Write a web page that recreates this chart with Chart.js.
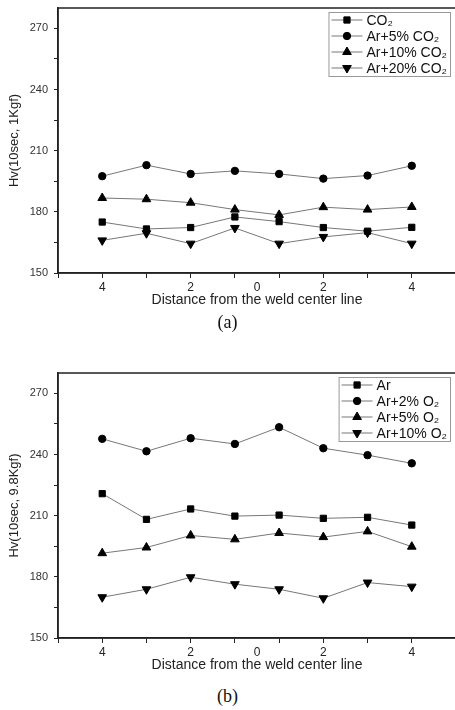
<!DOCTYPE html>
<html>
<head>
<meta charset="utf-8">
<script src="https://cdn.jsdelivr.net/npm/chart.js@4.4.0/dist/chart.umd.min.js"></script>
<style>
  body { margin: 0; width: 455px; height: 710px; overflow: hidden; background: #fff; position: relative; }
  .box { position: absolute; left: 0; width: 462px; height: 313px; }
  .cap { position: absolute; left: 0; width: 455px; text-align: center; font: 18px "Liberation Serif", "Times New Roman", serif; color: #111; }
</style>
</head>
<body>
<div class="box" style="top:0"><canvas id="c1"></canvas></div>
<div class="cap" style="top:312px">(a)</div>
<div class="box" style="top:365px"><canvas id="c2"></canvas></div>
<div class="cap" style="top:686px">(b)</div>
<script>
// measuring positions along the weld (1..8), axis ticks and their labels
const positions = [1, 2, 3, 4, 5, 6, 7, 8];
const xTickValues = [0, 1, 2, 3, 4, 4.5, 5, 6, 7, 8, 9];
const xTickText = ['', '4', '', '2', '', '0', '', '2', '', '4', ''];
const yTickValues = [150, 165, 180, 195, 210, 225, 240, 255, 270];

// (a) CO2 mixtures, Hv 1Kgf
const labelsA = ['CO₂', 'Ar+5% CO₂', 'Ar+10% CO₂', 'Ar+20% CO₂'];
const co2 = [175.0, 171.6, 172.3, 177.5, 175.2, 172.3, 170.5, 172.4];
const ar5co2 = [197.5, 202.9, 198.6, 200.1, 198.6, 196.3, 197.8, 202.6];
const ar10co2 = [186.8, 186.2, 184.5, 181.1, 178.5, 182.3, 181.1, 182.4];
const ar20co2 = [166.0, 169.5, 164.4, 172.1, 164.4, 167.7, 169.8, 164.4];

// (b) O2 mixtures, Hv 9.8Kgf
const labelsB = ['Ar', 'Ar+2% O₂', 'Ar+5% O₂', 'Ar+10% O₂'];
const ar = [220.8, 208.2, 213.3, 209.8, 210.3, 208.7, 209.2, 205.4];
const ar2o2 = [247.7, 241.6, 248.0, 245.2, 253.4, 243.1, 239.7, 235.7];
const ar5o2 = [191.6, 194.4, 200.3, 198.4, 201.5, 199.5, 202.3, 194.8];
const ar10o2 = [170.0, 173.9, 179.8, 176.4, 173.9, 169.5, 177.2, 175.2];

const font = '"Liberation Sans", Arial, sans-serif';
const markers = [
  { style: 'rect', rot: 0, r: 4.4 },
  { style: 'circle', rot: 0, r: 3.7 },
  { style: 'triangle', rot: 0, r: 5 },
  { style: 'triangle', rot: 180, r: 5 }
];

const frame = {
  id: 'frame',
  afterDraw(chart) {
    const a = chart.chartArea, ctx = chart.ctx;
    ctx.save();
    ctx.strokeStyle = '#222';
    ctx.lineWidth = 1.5;
    ctx.strokeRect(a.left, a.top, a.right - a.left, a.bottom - a.top);
    ctx.restore();
  }
};

const boxLegend = {
  id: 'boxLegend',
  afterDraw(chart) {
    const ctx = chart.ctx, a = chart.chartArea, sets = chart.data.datasets;
    ctx.save();
    ctx.font = '14px ' + font;
    const w = Math.max(...sets.map(d => ctx.measureText(d.label).width));
    const right = a.right - 6, textX = right - 3 - w, left = textX - 38;
    const top = a.top + 4, rowH = 16, h = sets.length * rowH;
    ctx.fillStyle = '#fff';
    ctx.fillRect(left, top, right - left, h);
    ctx.strokeStyle = '#999';
    ctx.lineWidth = 1;
    ctx.strokeRect(left + 0.5, top + 0.5, right - left, h);
    sets.forEach((d, i) => {
      const y = top + 8 + i * rowH;
      ctx.strokeStyle = '#777';
      ctx.beginPath();
      ctx.moveTo(left + 3, y);
      ctx.lineTo(left + 34, y);
      ctx.stroke();
      ctx.fillStyle = '#000';
      ctx.strokeStyle = '#000';
      Chart.helpers.drawPoint(ctx, { pointStyle: d.pointStyle, rotation: d.pointRotation, radius: d.pointRadius, borderWidth: 1 }, left + 18.5, y);
      ctx.fillStyle = '#111';
      ctx.textBaseline = 'middle';
      ctx.fillText(d.label, textX, y + 1);
    });
    ctx.restore();
  }
};

function makeChart(id, yTitle, labels, series) {
  return new Chart(document.getElementById(id), {
    type: 'line',
    data: {
      datasets: series.map((vals, k) => ({
        label: labels[k],
        data: vals.map((v, i) => ({ x: positions[i], y: v })),
        borderColor: '#777',
        borderWidth: 1,
        pointStyle: markers[k].style,
        pointRotation: markers[k].rot,
        pointRadius: markers[k].r,
        pointBackgroundColor: '#000',
        pointBorderColor: '#000',
        pointBorderWidth: 1,
        tension: 0,
        fill: false
      }))
    },
    options: {
      animation: false,
      responsive: true,
      maintainAspectRatio: false,
      layout: { padding: { top: 8, right: 0, left: 0, bottom: 0 } },
      plugins: { legend: { display: false }, tooltip: { enabled: false } },
      scales: {
        x: {
          type: 'linear', min: 0, max: 9,
          afterBuildTicks: s => { s.ticks = xTickValues.map(v => ({ value: v })); },
          afterFit: s => { s.height = 40; s.paddingLeft = 0; s.paddingRight = 0; },
          ticks: {
            autoSkip: false, maxRotation: 0, padding: 2, color: '#222',
            font: { family: font, size: 12 },
            callback: v => xTickText[xTickValues.indexOf(v)]
          },
          grid: {
            drawOnChartArea: false, tickLength: 5,
            tickColor: c => (c.tick && c.tick.value === 4.5) ? 'rgba(0,0,0,0)' : '#222'
          },
          border: { color: '#222', width: 1.5 },
          title: {
            display: true, text: 'Distance from the weld center line', color: '#222',
            font: { family: font, size: 14 }, padding: { top: 0, bottom: 4 }
          }
        },
        y: {
          min: 150, max: 280,
          afterBuildTicks: s => { s.ticks = yTickValues.map(v => ({ value: v })); },
          afterFit: s => { s.width = 58; s.paddingTop = 0; s.paddingBottom = 0; },
          ticks: {
            padding: 6, color: '#333', font: { family: font, size: 11 },
            callback: v => (v % 30 === 0 ? v : '')
          },
          grid: { drawOnChartArea: false, tickLength: 4, tickColor: '#222' },
          border: { color: '#222', width: 1.5 },
          title: {
            display: true, text: yTitle, color: '#222',
            font: { family: font, size: 13 }, padding: { top: 7, bottom: 0 }
          }
        }
      }
    },
    plugins: [frame, boxLegend]
  });
}

makeChart('c1', 'Hv(10sec, 1Kgf)', labelsA, [co2, ar5co2, ar10co2, ar20co2]);
makeChart('c2', 'Hv(10sec, 9.8Kgf)', labelsB, [ar, ar2o2, ar5o2, ar10o2]);
</script>
</body>
</html>
